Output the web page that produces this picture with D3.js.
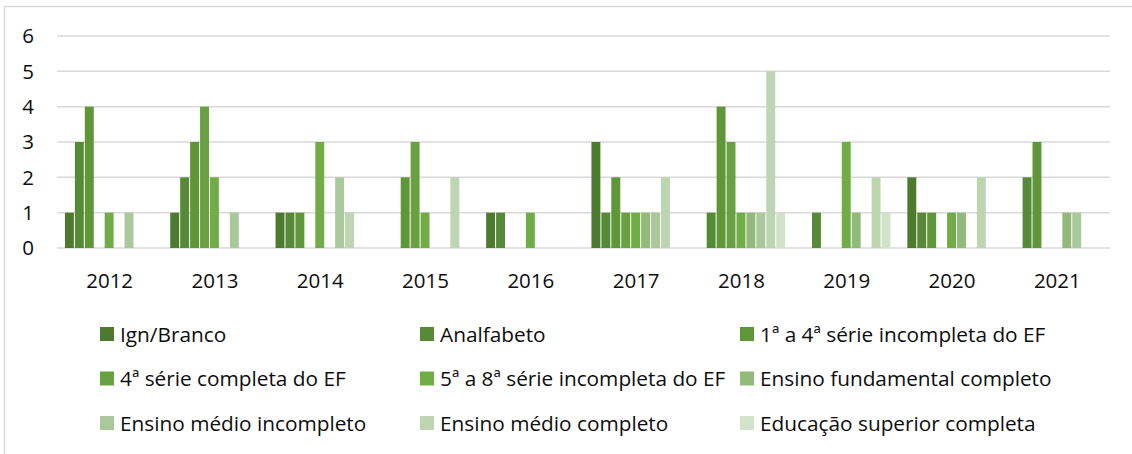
<!DOCTYPE html>
<html>
<head>
<meta charset="utf-8">
<script src="https://cdn.jsdelivr.net/npm/d3@7"></script>
<style>
  body { margin: 0; background: #fff; }
  text { font-family: "Open Sans", sans-serif; fill: #0d0d0d; }
</style>
</head>
<body>
<div id="chart"></div>
<script>
// categories
var years = ["2012", "2013", "2014", "2015", "2016", "2017", "2018", "2019", "2020", "2021"];
var seriesNames = [
  "Ign/Branco",
  "Analfabeto",
  "1ª a 4ª série incompleta do EF",
  "4ª série completa do EF",
  "5ª a 8ª série incompleta do EF",
  "Ensino fundamental completo",
  "Ensino médio incompleto",
  "Ensino médio completo",
  "Educação superior completa"
];
// series values, one per year
var ignBranco      = [1, 1, 1, 0, 1, 3, 0, 0, 2, 0];
var analfabeto     = [3, 2, 1, 0, 1, 1, 1, 1, 1, 2];
var serie1a4Inc    = [4, 3, 1, 2, 0, 2, 4, 0, 1, 3];
var serie4Comp     = [0, 4, 0, 3, 0, 1, 3, 0, 0, 0];
var serie5a8Inc    = [1, 2, 3, 1, 1, 1, 1, 3, 1, 0];
var fundComp       = [0, 0, 0, 0, 0, 1, 1, 1, 1, 1];
var medioInc       = [1, 1, 2, 0, 0, 1, 1, 0, 0, 1];
var medioComp      = [0, 0, 1, 2, 0, 2, 5, 2, 2, 0];
var superiorComp   = [0, 0, 0, 0, 0, 0, 1, 1, 0, 0];
var yTicks = [0, 1, 2, 3, 4, 5, 6];

var allSeries = [ignBranco, analfabeto, serie1a4Inc, serie4Comp, serie5a8Inc,
  fundComp, medioInc, medioComp, superiorComp];
var colors = ["#4e7a2f", "#578a37", "#5f9638", "#69a142", "#70ad47",
  "#92bb7b", "#a9c99a", "#bdd5b1", "#d3e3ca"];

var svgWidth = 1132;
var svgHeight = 454;

var svg = d3.select("#chart")
  .append("svg")
  .attr("width", svgWidth)
  .attr("height", svgHeight);

// chart frame (runs off the right and bottom edges)
svg.append("rect")
  .attr("x", 4.5)
  .attr("y", 6.5)
  .attr("width", svgWidth + 10)
  .attr("height", svgHeight + 10)
  .attr("fill", "none")
  .attr("stroke", "#d9d9d9")
  .attr("stroke-width", 1.5);

var x0 = d3.scaleBand()
  .domain(years)
  .range([57, 1110]);

var x1 = d3.scaleBand()
  .domain(d3.range(seriesNames.length))
  .range([0, x0.bandwidth()])
  .paddingInner(0)
  .paddingOuter(0.8);

var y = d3.scaleLinear()
  .domain([0, 6])
  .range([248, 36]);

// gridlines
svg.append("g")
  .selectAll("line")
  .data(yTicks)
  .enter()
  .append("line")
  .attr("x1", 57)
  .attr("x2", 1110)
  .attr("y1", d => y(d))
  .attr("y2", d => y(d))
  .attr("stroke", "#d9d9d9")
  .attr("stroke-width", 1.5);

// y tick labels
svg.append("g")
  .selectAll("text")
  .data(yTicks)
  .enter()
  .append("text")
  .attr("x", 34)
  .attr("y", d => y(d))
  .attr("dy", "0.36em")
  .attr("text-anchor", "end")
  .style("font-size", "20.5px")
  .text(d => d);

// bars
var groups = svg.append("g")
  .selectAll("g")
  .data(years)
  .enter()
  .append("g")
  .attr("transform", d => `translate(${x0(d)},0)`);

groups.selectAll("rect")
  .data((d, i) => allSeries.map((s, k) => ({ k: k, v: s[i] })))
  .enter()
  .append("rect")
  .attr("x", d => x1(d.k))
  .attr("y", d => y(d.v))
  .attr("width", x1.bandwidth() - 1)
  .attr("height", d => y(0) - y(d.v))
  .attr("fill", d => colors[d.k]);

// x labels
svg.append("g")
  .selectAll("text")
  .data(years)
  .enter()
  .append("text")
  .attr("x", d => x0(d) + x0.bandwidth() / 2)
  .attr("y", 288)
  .attr("text-anchor", "middle")
  .style("font-size", "20.5px")
  .text(d => d);

// legend, 3 columns
var legendCols = [100, 420, 740];
var legendRows = [334, 378.5, 423];
var legend = svg.append("g")
  .selectAll("g")
  .data(seriesNames)
  .enter()
  .append("g")
  .attr("transform", (d, i) => `translate(${legendCols[i % 3]},${legendRows[Math.floor(i / 3)]})`);

legend.append("rect")
  .attr("x", 0)
  .attr("y", -7)
  .attr("width", 14)
  .attr("height", 14)
  .attr("fill", (d, i) => colors[i]);

legend.append("text")
  .attr("x", 20)
  .attr("y", 0)
  .attr("dy", "0.36em")
  .style("font-size", "20.8px")
  .text(d => d);
</script>
</body>
</html>
